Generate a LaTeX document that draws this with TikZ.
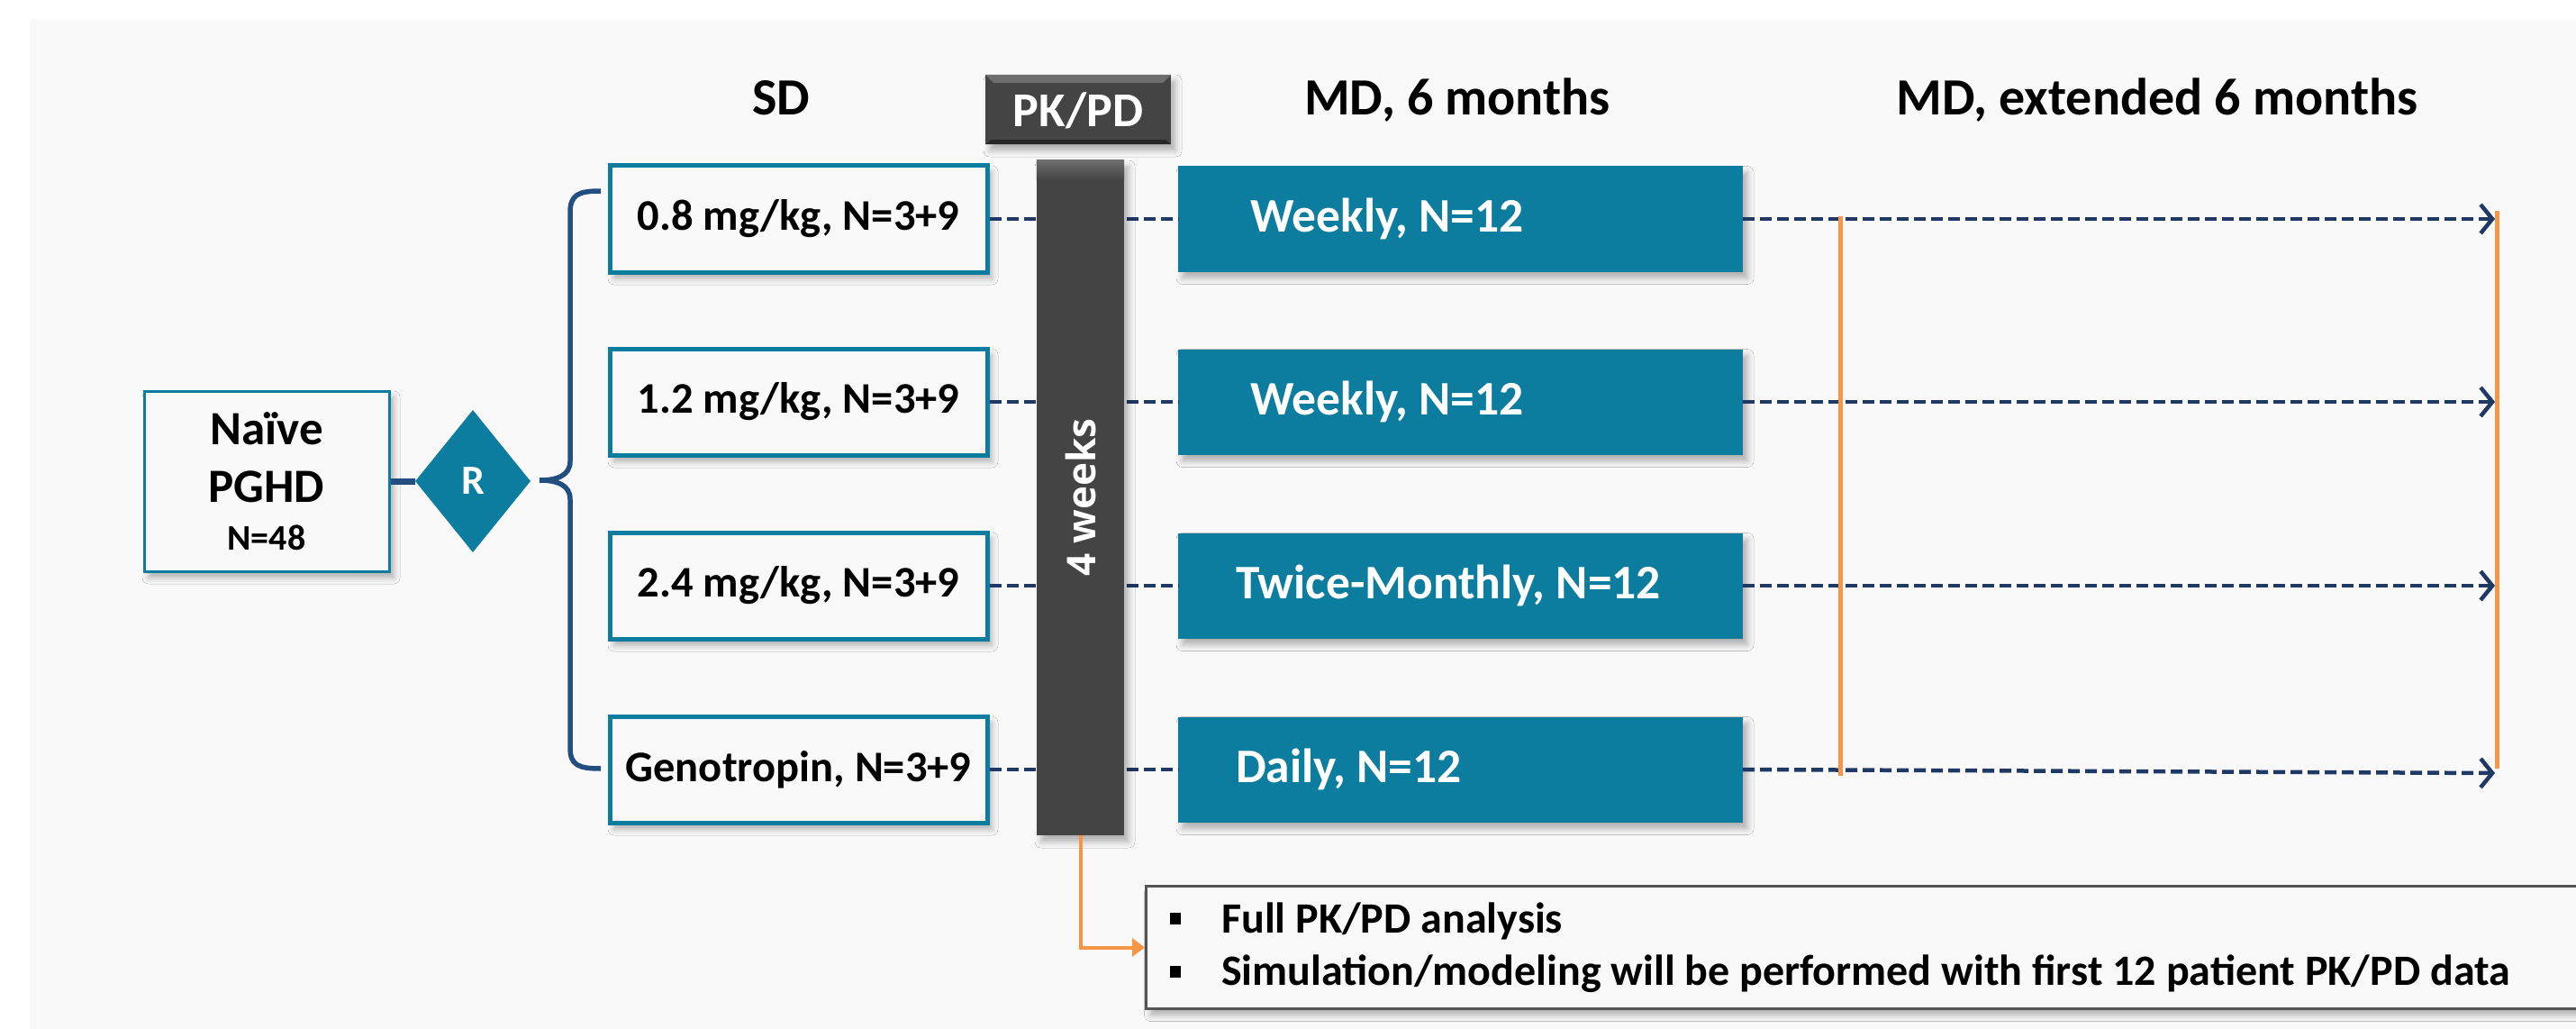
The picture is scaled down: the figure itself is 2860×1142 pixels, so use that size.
\documentclass[tikz,border=0pt]{standalone}
\usepackage{fontspec}
\setmainfont{Carlito}
\newfontfamily\wkfont{Open Sans}
\usetikzlibrary{arrows.meta,shapes.geometric,shadows.blur,calc}

\definecolor{teal}{RGB}{12,125,158}
\definecolor{navy}{RGB}{31,56,100}
\definecolor{bracecol}{RGB}{34,78,128}
\definecolor{orangeln}{RGB}{247,150,70}
\definecolor{darkbar}{RGB}{68,68,68}
\definecolor{bevel}{RGB}{110,110,110}
\definecolor{panel}{RGB}{249,249,249}
\definecolor{framegray}{RGB}{85,85,85}

\tikzset{
  softshadow/.style={blur shadow={shadow xshift=5pt, shadow yshift=-7pt,
      shadow blur radius=7pt, shadow opacity=30}},
  header/.style={font=\fontsize{58}{64}\selectfont\bfseries, anchor=base, inner sep=0},
  sdbox/.style={draw=teal, line width=5pt, fill=panel, minimum width=419pt,
      minimum height=118pt, inner sep=0, softshadow,
      font=\fontsize{48.5}{54}\selectfont\bfseries},
  mdbox/.style={fill=teal, minimum width=627pt, minimum height=117pt,
      inner sep=0, softshadow},
  mdtext/.style={text=white, anchor=west, inner sep=0,
      font=\fontsize{53.5}{60}\selectfont\bfseries},
  rowline/.style={draw=navy, line width=4.5pt, dash pattern=on 13pt off 6pt},
  rowarrow/.style={rowline, -{Straight Barb[length=13pt, width=32pt, line width=4.5pt]}},
  orangeline/.style={draw=orangeln, line width=5pt},
  bulletsq/.style={fill=black, minimum width=12pt, minimum height=13pt, inner sep=0},
  bullettext/.style={anchor=base west, inner sep=0,
      font=\fontsize{48}{54}\selectfont\bfseries},
}

\begin{document}
\begin{tikzpicture}[x=1pt, y=-1pt]
\useasboundingbox (0,0) rectangle (2860,1142);
% light backdrop panel
\fill[panel] (33,21) rectangle (2860,1142);

% column headers
\node[header] (hsd) at (867,128) {SD};
\node[header] (hmd) at (1618,128) {MD, 6 months};
\node[header] (hext) at (2395,128) {MD, extended 6 months};

% PK/PD header box with bevelled top edge
\node[fill=darkbar, minimum width=206pt, minimum height=77pt, inner sep=0,
      softshadow] (pkpd) at (1197,121.5) {};
\fill[bevel] (pkpd.north west) -- (pkpd.north east) -- ++(-9,9) -- ($(pkpd.north west)+(9,9)$) -- cycle;
\fill[black!85] (pkpd.south west) -- (pkpd.south east) -- ++(-6,-5) -- ($(pkpd.south west)+(6,-5)$) -- cycle;
\node[text=white, font=\fontsize{54}{60}\selectfont\bfseries, inner sep=0] (pkpdtxt)
      at (1197,123) {PK/PD};

% patient population and randomisation
\node[draw=teal, line width=3pt, fill=panel, minimum width=272pt, minimum height=200pt,
      inner sep=0, softshadow] (naive) at (296,534) {};
\node[font=\fontsize{53}{58}\selectfont\bfseries, anchor=base, inner sep=0] (naive1)
      at (296,493) {Naïve};
\node[font=\fontsize{53}{58}\selectfont\bfseries, anchor=base, inner sep=0] (naive2)
      at (296,557) {PGHD};
\node[font=\fontsize{40}{46}\selectfont\bfseries, anchor=base, inner sep=0] (naive3)
      at (296,610) {N=48};
\node[diamond, fill=teal, minimum width=128pt, minimum height=158pt, inner sep=0,
      text=white, font=\fontsize{46}{52}\selectfont\bfseries] (rnd) at (525,534) {R};
\draw[bracecol, line width=7pt] (naive.east) -- (rnd.west);

% curly brace fanning out to the four arms
\coordinate (brtop) at (667,212);
\coordinate (brtip) at (599,533);
\coordinate (brbot) at (667,853);
\draw[bracecol, line width=5.5pt]
  (brtop) .. controls (642,212) and (633,216) .. (633,236)
  -- (633,512) .. controls (633,528) and (618,533) .. (brtip)
  .. controls (618,533) and (633,538) .. (633,554)
  -- (633,830) .. controls (633,849) and (642,853) .. (brbot);

% single-dose arms
\node[sdbox] (s1) at (886.5,243) {0.8 mg/kg, N=3+9};
\node[sdbox] (s2) at (886.5,446) {1.2 mg/kg, N=3+9};
\node[sdbox] (s3) at (886.5,650) {2.4 mg/kg, N=3+9};
\node[sdbox] (s4) at (886.5,854) {Genotropin, N=3+9};

% multiple-dose arms
\node[mdbox] (m1) at (1621.5,243) {};
\node[mdbox] (m2) at (1621.5,446) {};
\node[mdbox] (m3) at (1621.5,650) {};
\node[mdbox] (m4) at (1621.5,854) {};
\node[mdtext] (t1) at ($(m1.west)+(80,0)$) {Weekly, N=12};
\node[mdtext] (t2) at ($(m2.west)+(80,0)$) {Weekly, N=12};
\node[mdtext] (t3) at ($(m3.west)+(64,0)$) {Twice-Monthly, N=12};
\node[mdtext] (t4) at ($(m4.west)+(64,0)$) {Daily, N=12};

% dashed links through the 4-week window
\draw[rowline] (s1.east) -- (m1.west);
\draw[rowline] (s2.east) -- (m2.west);
\draw[rowline] (s3.east) -- (m3.west);
\draw[rowline] (s4.east) -- (m4.west);

% 4-week PK/PD bar
\node[fill=darkbar, minimum width=97pt, minimum height=749pt, inner sep=0,
      softshadow] (bar) at (1199.5,552.5) {};
\shade[top color=bevel, bottom color=darkbar] (bar.north west) rectangle ($(bar.north east)+(0,22)$);
\node[rotate=90, text=white, inner sep=0,
      font=\wkfont\bfseries\fontsize{44}{50}\selectfont] (weeks) at (1199.5,552) {4 weeks};

% extension period
\coordinate (e1) at (2770,243);
\coordinate (e2) at (2770,446);
\coordinate (e3) at (2770,650);
\coordinate (e4) at (2770,858);
\draw[rowarrow] (m1.east) -- (e1);
\draw[rowarrow] (m2.east) -- (e2);
\draw[rowarrow] (m3.east) -- (e3);
\draw[rowarrow] (m4.east) -- (e4);

\coordinate (oa1) at (2043,240);
\coordinate (oa2) at (2043,861);
\coordinate (ob1) at (2772,234);
\coordinate (ob2) at (2772,853);
\draw[orangeline] (oa1) -- (oa2);
\draw[orangeline] (ob1) -- (ob2);

% PK/PD analysis note
\node[draw=framegray, line width=3pt, fill=panel, minimum width=1620pt,
      minimum height=136pt, inner sep=0, anchor=north west, softshadow] (note) at (1271,982) {};
\node[bulletsq] (b1) at (1305,1019) {};
\node[bulletsq] (b2) at (1305,1078) {};
\node[bullettext] (n1) at (1356,1035) {Full PK/PD analysis};
\node[bullettext] (n2) at (1356,1093) {Simulation/modeling will be performed with first 12 patient PK/PD data};

\draw[orangeln, line width=4pt, -{Triangle[length=14pt, width=20pt]}]
  (bar.south) -- (bar.south |- note.west) -- (note.west);
\end{tikzpicture}
\end{document}
